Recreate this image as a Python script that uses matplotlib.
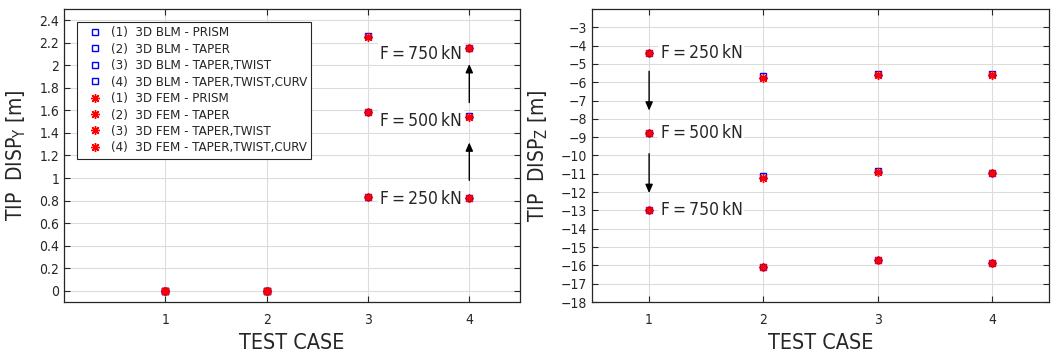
import matplotlib
matplotlib.use("Agg")
import matplotlib.pyplot as plt
from matplotlib import font_manager as fm
import numpy as np

# pick a narrow font if available
cond = [f for f in fm.fontManager.ttflist if 'ondensed' in f.fname or 'Narrow' in f.fname]
narrow_family = None
narrow_stretch = 'normal'
for f in cond:
    if 'Liberation' in f.fname and 'Narrow' in f.fname:
        narrow_family = f.name
        break
if narrow_family is None:
    for f in cond:
        if 'DejaVuSansCondensed' in f.fname.replace('-', ''):
            narrow_family = f.name
            narrow_stretch = 'condensed'
            break
if narrow_family is None:
    narrow_family = 'Liberation Sans'

plt.rcParams['font.family'] = [narrow_family, 'DejaVu Sans']
plt.rcParams['font.stretch'] = narrow_stretch
plt.rcParams['mathtext.fontset'] = 'custom'
plt.rcParams['mathtext.rm'] = narrow_family

cases = [1, 2, 3, 4]
loads = ["F\u2009=\u2009250\u2009kN", "F\u2009=\u2009500\u2009kN", "F\u2009=\u2009750\u2009kN"]
blm_labels = ["(1)  3D BLM - PRISM", "(2)  3D BLM - TAPER",
              "(3)  3D BLM - TAPER,TWIST", "(4)  3D BLM - TAPER,TWIST,CURV"]
fem_labels = ["(1)  3D FEM - PRISM", "(2)  3D FEM - TAPER",
              "(3)  3D FEM - TAPER,TWIST", "(4)  3D FEM - TAPER,TWIST,CURV"]

# tip displacement Y [m], per case, per load (250, 500, 750 kN)
blm_y = [[0.0, 0.0, 0.0], [0.0, 0.0, 0.0], [0.83, 1.59, 2.26], [0.82, 1.55, 2.155]]
fem_y = [[0.0, 0.0, 0.0], [0.0, 0.0, 0.0], [0.83, 1.585, 2.255], [0.82, 1.545, 2.15]]
# tip displacement Z [m]
blm_z = [[-4.40, -8.75, -12.98], [-5.68, -11.13, -16.10], [-5.55, -10.87, -15.72], [-5.55, -10.93, -15.88]]
fem_z = [[-4.40, -8.75, -12.98], [-5.78, -11.22, -16.10], [-5.60, -10.88, -15.72], [-5.60, -10.97, -15.88]]

fig = plt.figure(figsize=(10.59, 3.57), dpi=100)
ax1 = fig.add_axes([0.0604, 0.154, 0.4306, 0.821])
ax2 = fig.add_axes([0.559, 0.154, 0.4316, 0.821])

tick_color = '#262626'
asterisk = (8, 2, 0)

def style(ax):
    ax.grid(True, color='#dcdcdc', linewidth=0.8)
    ax.set_axisbelow(True)
    ax.tick_params(direction='in', top=True, right=True, labelsize=10,
                   colors=tick_color, length=4, width=0.8)
    ax.tick_params(axis='x', pad=8)
    for s in ax.spines.values():
        s.set_color('#262626')
        s.set_linewidth(0.9)
    ax.set_xticks(cases)
    ax.set_xlabel('TEST CASE', fontsize=15.5, color=tick_color)

for ax, b, f in ((ax1, blm_y, fem_y), (ax2, blm_z, fem_z)):
    for i, c in enumerate(cases):
        ax.plot([c] * 3, b[i], linestyle='none', marker='s', markersize=5,
                markerfacecolor='none', markeredgecolor='blue', markeredgewidth=1.0,
                label=blm_labels[i], zorder=3)
    for i, c in enumerate(cases):
        ax.plot([c] * 3, f[i], linestyle='none', marker=asterisk, markersize=6.5,
                color='red', markeredgewidth=1.0, label=fem_labels[i], zorder=4)
    style(ax)

ax1.set_xlim(0, 4.5)
ax1.set_ylim(-0.1, 2.5)
ax1.set_yticks(np.arange(0, 2.41, 0.2))
ax1.set_yticklabels(['0', '0.2', '0.4', '0.6', '0.8', '1', '1.2', '1.4', '1.6',
                     '1.8', '2', '2.2', '2.4'])
ax1.set_ylabel('TIP  DISP$_{\\mathregular{Y}}$ [m]', fontsize=15, color=tick_color, labelpad=8)

ax2.set_xlim(0.5, 4.5)
ax2.set_ylim(-18, -2)
ax2.set_yticks(np.arange(-18, -2.5, 1))
ax2.set_ylabel('TIP  DISP$_{\\mathregular{Z}}$ [m]', fontsize=15, color=tick_color, labelpad=8)

bbox = dict(facecolor='white', edgecolor='none', pad=1.5)
text_kw = dict(fontsize=12.5, color=tick_color, bbox=bbox, zorder=5)

# Left panel annotations
ax1.text(3.52, 0.81, loads[0], ha='center', va='center', **text_kw)
ax1.text(3.52, 1.505, loads[1], ha='center', va='center', **text_kw)
ax1.text(3.52, 2.10, loads[2], ha='center', va='center', **text_kw)
arrow_kw = dict(arrowstyle='-|>,head_length=0.5,head_width=0.22', color='black', lw=1.0)
ax1.annotate('', xy=(4, 1.34), xytext=(4, 0.955), arrowprops=arrow_kw)
ax1.annotate('', xy=(4, 2.035), xytext=(4, 1.645), arrowprops=arrow_kw)

# Right panel annotations
ax2.text(1.10, -4.40, loads[0], ha='left', va='center', **text_kw)
ax2.text(1.10, -8.75, loads[1], ha='left', va='center', **text_kw)
ax2.text(1.10, -12.98, loads[2], ha='left', va='center', **text_kw)
ax2.annotate('', xy=(1, -7.7), xytext=(1, -5.25), arrowprops=arrow_kw)
ax2.annotate('', xy=(1, -12.2), xytext=(1, -9.75), arrowprops=arrow_kw)

leg = ax1.legend(loc='upper left', bbox_to_anchor=(0.0285, 0.956), borderaxespad=0,
                 fontsize=9.5, frameon=True, fancybox=False, edgecolor='#262626',
                 framealpha=1, handlelength=2.0, handletextpad=0.2, labelspacing=0.26,
                 borderpad=0.35, numpoints=1)
leg.get_frame().set_linewidth(0.8)
for t in leg.get_texts():
    t.set_color(tick_color)

fig.savefig('out.png', dpi=100)
